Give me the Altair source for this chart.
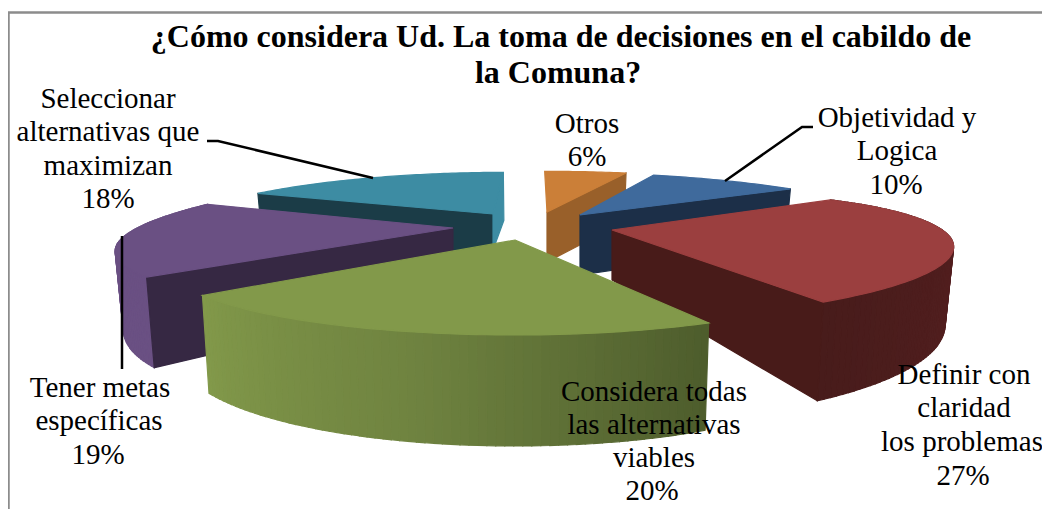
import math
import altair as alt
import pandas as pd

# ---- chart values -------------------------------------------------
CATEGORIES = ["Objetividad y Logica", "Definir con claridad los problemas",
              "Considera todas las alternativas viables", "Tener metas específicas",
              "Seleccionar alternativas que maximizan", "Otros"]
SHARES = [10, 27, 20, 19, 18, 6]
TITLE_LINES = ["¿Cómo considera Ud. La toma de decisiones en el cabildo de", "la Comuna?"]
LABEL_LINES = [
    ["Objetividad y", "Logica", "10%"],
    ["Definir con", "claridad", "los problemas", "27%"],
    ["Considera todas", "las alternativas", "viables", "20%"],
    ["Tener metas", "específicas", "19%"],
    ["Seleccionar", "alternativas que", "maximizan", "18%"],
    ["Otros", "6%"],
]

# ---- layout and style ---------------------------------------------
START = 20.0
K, A, B = 0.40, 57.0, 312.0
GEOM = {
    0: dict(apex=(580, 215), d=(0, 0), e=((-4, -1), (-1, 0)), dz=0, h=60, faces=["cut2", "top"], top="#3f6a9c", cut="#1c2f48"),
    1: dict(apex=(612, 230), d=(0, -1), e=((7, -4), (-14, -6)), mid=(5, -5), dz=-4, h=50, faces=["wall", "cut2", "top"], top="#9b3f3f", cut="#481b19", wall=("#4a1c1a", "#551f20", "#481c1b")),
    2: dict(apex=(515, 240), d=(3.7, 0.4), e=((0, 0), (-3, 0)), dz=3, h=70, faces=["wall", "top"], top="#82994a", wall=("#82994a", "#6f8340", "#4d5c2c")),
    3: dict(apex=(453, 228), d=(1, 0), e=((5, -5.5), (1, -4)), dz=-4, h=70, faces=["wall", "cut1", "top"], top="#6a5083", cut="#362843", wall=("#6a5083",)),
    4: dict(apex=(493, 214), d=(3, 4), e=((1.5, 1), (1, -1)), dz=0, h=36, faces=["cut1", "cut2", "top"], top="#3d8ca3", cut="#1b3c47", cut2="#3d8ca3"),
    5: dict(apex=(547, 212), d=(1, 0), e=((0, 0), (1.5, 0)), dz=0, h=50, faces=["cut2", "top"], top="#cb7f38", cut="#99602a"),
}
DRAW_ORDER = [4, 5, 0, 3, 1, 2]
LABEL_POS = {
    0: [(897, 127), (897, 160), (896, 194)],
    1: [(964, 384), (964, 417), (962, 451), (963, 485)],
    2: [(654, 401), (654, 434), (654, 467), (652, 500)],
    3: [(100, 397), (99, 430), (98, 464)],
    4: [(108, 108), (108, 141), (108, 175), (108, 208)],
    5: [(587, 133), (587, 166)],
}
TITLE_POS = [(561, 47), (558, 83)]
LEADERS = [
    [(207, 141), (218, 141), (373, 178)],
    [(725, 181), (802, 127), (813, 127)],
    [(122, 236), (122, 369)],
]
FRAME = [[(8.5, 509), (8.5, 12.5), (1042, 12.5)]]


def rim(g, theta, t1, t2):
    t = math.radians(theta)
    u, v = math.sin(t), math.cos(t)
    w = 1 + K * v
    f = (theta - t1) / (t2 - t1)
    (e1x, e1y), (e2x, e2y) = g["e"]
    mx, my = g.get("mid", (0, 0))
    a, b, c = (1 - f) ** 2, f ** 2, 4 * f * (1 - f)
    return (g["apex"][0] + B * u / w + a * e1x + b * e2x + c * mx,
            g["apex"][1] - A * v / w + a * e1y + b * e2y + c * my, v)


def depth(v, dz):
    return 70 - 30 * v + 8 * v * v + dz


def lower(x, y, v, dz):
    return 530 + (x - 530) * 0.98, y + depth(v, dz)


def lerp_color(c1, c2, f):
    a = [int(c1[i:i + 2], 16) for i in (1, 3, 5)]
    b = [int(c2[i:i + 2], 16) for i in (1, 3, 5)]
    return "#%02x%02x%02x" % tuple(round(p + (q - p) * f) for p, q in zip(a, b))


def ramp(stops, f):
    if len(stops) == 1:
        return stops[0]
    p = f * (len(stops) - 1)
    i = min(int(p), len(stops) - 2)
    return lerp_color(stops[i], stops[i + 1], p - i)


rows = []
pid = [0]


def add(points, color):
    pid[0] += 1
    for i, (x, y) in enumerate(points):
        rows.append(dict(poly=pid[0], i=i, x=x, y=y, c=color))


starts = []
acc = START
for s in SHARES:
    starts.append(acc)
    acc += s * 3.6

for idx in DRAW_ORDER:
    g = GEOM[idx]
    t1 = starts[idx] + g["d"][0]
    t2 = starts[idx] + SHARES[idx] * 3.6 + g["d"][1]
    n = max(6, int(t2 - t1))
    thetas = [t1 + (t2 - t1) * j / n for j in range(n + 1)]
    ax, ay = g["apex"]
    dz = g["dz"]
    for face in g["faces"]:
        if face == "top":
            add([(ax, ay)] + [rim(g, t, t1, t2)[:2] for t in thetas], g["top"])
        elif face in ("cut1", "cut2"):
            x, y, v = rim(g, t1 if face == "cut1" else t2, t1, t2)
            add([(ax, ay), (x, y), lower(x, y, v, dz), (ax, ay + g["h"])], g.get(face, g["cut"]))
        else:
            for j in range(n):
                x1, y1, v1 = rim(g, thetas[j], t1, t2)
                x2, y2, v2 = rim(g, thetas[j + 1], t1, t2)
                add([(x1, y1), (x2, y2), lower(x2, y2, v2, dz), lower(x1, y1, v1, dz)],
                    ramp(g["wall"], 1 - (j + .5) / n if idx == 2 else (j + .5) / n))

X = alt.X("x:Q", axis=None, scale=alt.Scale(domain=[8, 1042], range=[0, 1034], nice=False, zero=False))
Y = alt.Y("y:Q", axis=None, scale=alt.Scale(domain=[8, 509], range=[0, 501], nice=False, zero=False))

polys = alt.Chart(pd.DataFrame(rows)).mark_line(
    filled=True, interpolate="linear-closed", strokeWidth=1.2, clip=True
).encode(
    x=X, y=Y, order="i:Q", detail="poly:N",
    fill=alt.Fill("c:N", scale=None), stroke=alt.Stroke("c:N", scale=None),
)

lrows = []
for k, path in enumerate(LEADERS):
    for i, (x, y) in enumerate(path):
        lrows.append(dict(k=k, i=i, x=x, y=y))
leaders = alt.Chart(pd.DataFrame(lrows)).mark_line(color="#000000", strokeWidth=2.5).encode(
    x=X, y=Y, order="i:Q", detail="k:N")

frows = []
for k, path in enumerate(FRAME):
    for i, (x, y) in enumerate(path):
        frows.append(dict(k=k, i=i, x=x, y=y))
frame = alt.Chart(pd.DataFrame(frows)).mark_line(color="#8c8c8c", strokeWidth=2.5).encode(
    x=X, y=Y, order="i:Q", detail="k:N")

trows = []
for idx, lines in enumerate(LABEL_LINES):
    for line, (x, y) in zip(lines, LABEL_POS[idx]):
        trows.append(dict(t=line, x=x, y=y))
labels = alt.Chart(pd.DataFrame(trows)).mark_text(
    font="Liberation Serif", fontSize=29, color="#000000", align="center", baseline="alphabetic"
).encode(x=X, y=Y, text="t:N")

ttl = pd.DataFrame([dict(t=l, x=p[0], y=p[1]) for l, p in zip(TITLE_LINES, TITLE_POS)])
title = alt.Chart(ttl).mark_text(
    font="Liberation Serif", fontSize=32, fontWeight="bold", color="#000000", align="center", baseline="alphabetic"
).encode(x=X, y=Y, text="t:N")

chart = alt.layer(frame, polys, leaders, labels, title).properties(
    width=1034, height=501, padding=0, background="#ffffff",
    autosize=alt.AutoSizeParams(type="none"),
).configure_view(stroke=None)

chart.save("out.html", embed_options={"renderer": "svg", "actions": False})
